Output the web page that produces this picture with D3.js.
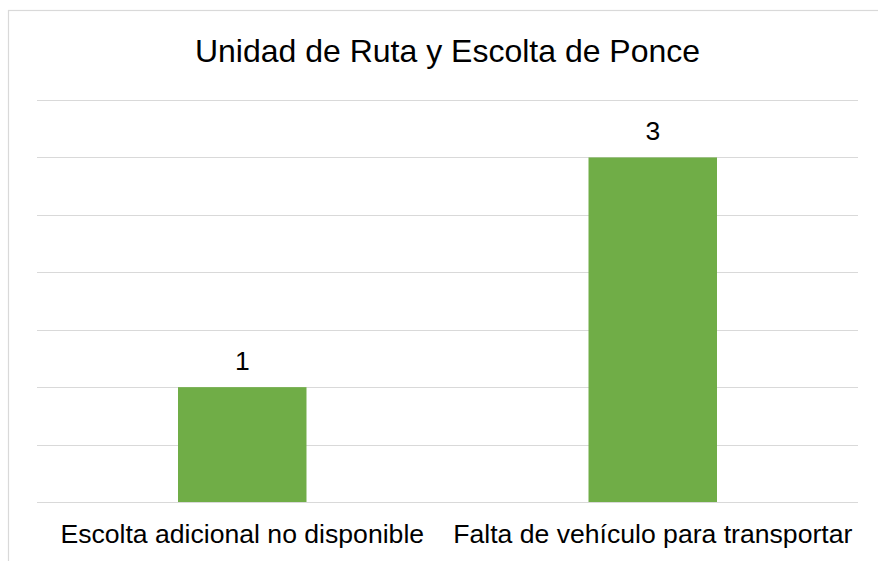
<!DOCTYPE html>
<html><head><meta charset="utf-8">
<script src="https://cdn.jsdelivr.net/npm/d3@7"></script>
<style>body{margin:0;background:#fff;} svg{display:block;}</style>
</head><body>
<svg id="c" width="878" height="561"></svg>
<script>
const title = "Unidad de Ruta y Escolta de Ponce";
const categories = ["Escolta adicional no disponible", "Falta de vehículo para transportar"];
const values = [1, 3];
const yTicks = [0, 0.5, 1, 1.5, 2, 2.5, 3, 3.5];

const svg = d3.select("#c");
const font = "'Liberation Sans', Arial, sans-serif";
const plotLeft = 37, plotRight = 858, plotTop = 100, plotBottom = 502;

// frame
svg.append("rect").attr("x", 8.5).attr("y", 10.5).attr("width", 900).attr("height", 600)
  .attr("fill", "#fff").attr("stroke", "#d9d9d9").attr("stroke-width", 1.2);

const x = d3.scaleBand().domain(categories).range([plotLeft, plotRight]).paddingInner(0.687).paddingOuter(0.3435);
const y = d3.scaleLinear().domain([0, 3.5]).range([plotBottom, plotTop]);

svg.append("g").selectAll("line").data(yTicks).join("line")
  .attr("x1", plotLeft).attr("x2", plotRight)
  .attr("y1", d => Math.round(y(d)) + 0.5).attr("y2", d => Math.round(y(d)) + 0.5)
  .attr("stroke", "#d9d9d9").attr("stroke-width", 1.2);

svg.append("g").selectAll("rect").data(values).join("rect")
  .attr("x", (d, i) => x(categories[i]))
  .attr("width", x.bandwidth())
  .attr("y", d => y(d))
  .attr("height", d => y(0) - y(d))
  .attr("fill", "#70ad47");

svg.append("g").selectAll("text").data(values).join("text")
  .attr("x", (d, i) => x(categories[i]) + x.bandwidth() / 2)
  .attr("y", d => y(d) - 17)
  .attr("text-anchor", "middle")
  .attr("font-family", font).attr("font-size", 26.5).attr("fill", "#000")
  .text(d => d);

const xAxis = svg.append("g").attr("transform", `translate(0,${plotBottom})`)
  .call(d3.axisBottom(x).tickSize(0).tickPadding(41));
xAxis.select(".domain").remove();
xAxis.selectAll("text").attr("font-family", font).attr("font-size", 26.6).attr("fill", "#000")
  .attr("dy", "0");

svg.append("text").attr("x", 447.5).attr("y", 61.5).attr("text-anchor", "middle")
  .attr("font-family", font).attr("font-size", 32).attr("fill", "#000").text(title);
</script>
</body></html>
